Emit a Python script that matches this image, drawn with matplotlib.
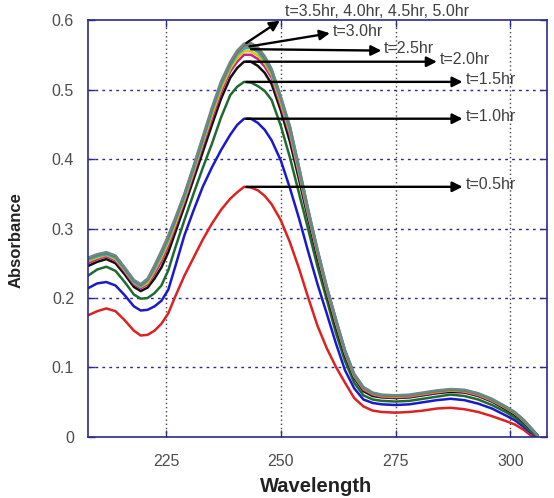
import matplotlib
matplotlib.use("Agg")
import matplotlib.pyplot as plt

plt.rcParams['font.family'] = ['Liberation Sans', 'DejaVu Sans']

# wavelength grid (nm)
wavelength = [208, 210, 212, 214, 216, 218, 219.5, 221, 222.5, 224, 225.5, 227, 229, 231,
              233, 235, 237, 239, 240.5, 242, 243.5, 245, 246.5, 248, 250, 252, 254, 256,
              258, 260, 262, 264, 266, 268, 270, 272, 275, 278, 281, 284, 287, 290, 293,
              296, 299, 301, 303, 304.5, 306]

# absorbance for each irradiation time
abs_05 = [0.175, 0.181, 0.185, 0.181, 0.168, 0.153, 0.146, 0.147, 0.153, 0.163, 0.178, 0.202,
          0.232, 0.258, 0.284, 0.307, 0.327, 0.343, 0.352, 0.360, 0.359, 0.355, 0.347, 0.335,
          0.312, 0.280, 0.242, 0.200, 0.160, 0.128, 0.101, 0.078, 0.056, 0.044, 0.038, 0.036,
          0.035, 0.036, 0.038, 0.041, 0.042, 0.040, 0.036, 0.030, 0.023, 0.018, 0.010, 0.002,
          0.000]
abs_10 = [0.214, 0.221, 0.223, 0.218, 0.204, 0.188, 0.182, 0.183, 0.188, 0.196, 0.212, 0.245,
          0.290, 0.326, 0.360, 0.388, 0.413, 0.435, 0.449, 0.458, 0.458, 0.452, 0.442, 0.427,
          0.398, 0.358, 0.314, 0.266, 0.220, 0.178, 0.135, 0.096, 0.070, 0.054, 0.049, 0.047,
          0.046, 0.047, 0.050, 0.053, 0.055, 0.053, 0.048, 0.041, 0.031, 0.024, 0.014, 0.006,
          0.000]
abs_15 = [0.232, 0.241, 0.245, 0.239, 0.223, 0.205, 0.199, 0.200, 0.207, 0.218, 0.240, 0.272,
          0.312, 0.350, 0.387, 0.422, 0.460, 0.492, 0.504, 0.511, 0.510, 0.505, 0.498, 0.485,
          0.448, 0.402, 0.350, 0.298, 0.245, 0.198, 0.150, 0.109, 0.078, 0.060, 0.054, 0.052,
          0.051, 0.052, 0.055, 0.058, 0.061, 0.059, 0.054, 0.046, 0.036, 0.028, 0.017, 0.008,
          0.000]
abs_20 = [0.246, 0.252, 0.256, 0.250, 0.234, 0.216, 0.210, 0.215, 0.228, 0.244, 0.266, 0.294,
          0.332, 0.371, 0.410, 0.449, 0.487, 0.517, 0.531, 0.540, 0.540, 0.534, 0.524, 0.508,
          0.470, 0.425, 0.370, 0.313, 0.258, 0.208, 0.160, 0.117, 0.085, 0.066, 0.059, 0.057,
          0.056, 0.057, 0.060, 0.063, 0.065, 0.064, 0.059, 0.051, 0.040, 0.032, 0.021, 0.011,
          0.001]
abs_25 = [0.250, 0.256, 0.260, 0.254, 0.238, 0.220, 0.214, 0.220, 0.235, 0.253, 0.275, 0.302,
          0.339, 0.378, 0.419, 0.458, 0.496, 0.526, 0.540, 0.550, 0.550, 0.544, 0.533, 0.517,
          0.477, 0.434, 0.377, 0.318, 0.263, 0.211, 0.164, 0.120, 0.087, 0.068, 0.061, 0.058,
          0.057, 0.058, 0.061, 0.064, 0.067, 0.065, 0.060, 0.052, 0.042, 0.034, 0.022, 0.012,
          0.001]
abs_30 = [0.253, 0.258, 0.262, 0.256, 0.240, 0.222, 0.216, 0.222, 0.239, 0.258, 0.280, 0.306,
          0.342, 0.382, 0.423, 0.463, 0.501, 0.530, 0.545, 0.555, 0.555, 0.549, 0.538, 0.521,
          0.481, 0.438, 0.380, 0.321, 0.265, 0.213, 0.166, 0.122, 0.088, 0.070, 0.062, 0.059,
          0.058, 0.059, 0.062, 0.065, 0.067, 0.066, 0.061, 0.053, 0.042, 0.034, 0.023, 0.012,
          0.002]
abs_35 = [0.255, 0.260, 0.263, 0.258, 0.241, 0.223, 0.217, 0.225, 0.242, 0.262, 0.284, 0.310,
          0.345, 0.385, 0.426, 0.468, 0.506, 0.534, 0.550, 0.559, 0.560, 0.554, 0.542, 0.524,
          0.485, 0.441, 0.383, 0.323, 0.267, 0.215, 0.168, 0.123, 0.089, 0.071, 0.063, 0.060,
          0.059, 0.060, 0.063, 0.066, 0.068, 0.067, 0.062, 0.054, 0.043, 0.035, 0.023, 0.012,
          0.002]
abs_40 = [0.256, 0.262, 0.265, 0.260, 0.243, 0.225, 0.219, 0.226, 0.244, 0.265, 0.287, 0.312,
          0.347, 0.387, 0.429, 0.470, 0.508, 0.537, 0.552, 0.562, 0.563, 0.557, 0.545, 0.527,
          0.487, 0.444, 0.385, 0.325, 0.268, 0.216, 0.169, 0.124, 0.090, 0.071, 0.063, 0.060,
          0.059, 0.060, 0.063, 0.066, 0.068, 0.067, 0.062, 0.054, 0.043, 0.035, 0.024, 0.013,
          0.002]
abs_45 = [0.257, 0.262, 0.265, 0.260, 0.243, 0.225, 0.219, 0.227, 0.246, 0.266, 0.288, 0.313,
          0.349, 0.389, 0.430, 0.472, 0.510, 0.538, 0.554, 0.564, 0.565, 0.559, 0.546, 0.528,
          0.489, 0.446, 0.387, 0.326, 0.269, 0.216, 0.169, 0.124, 0.090, 0.071, 0.063, 0.060,
          0.059, 0.060, 0.063, 0.066, 0.068, 0.067, 0.062, 0.054, 0.043, 0.035, 0.024, 0.013,
          0.002]
abs_50 = [0.258, 0.263, 0.266, 0.261, 0.244, 0.226, 0.220, 0.228, 0.247, 0.268, 0.290, 0.315,
          0.350, 0.390, 0.432, 0.474, 0.512, 0.540, 0.556, 0.566, 0.567, 0.561, 0.548, 0.530,
          0.490, 0.447, 0.388, 0.327, 0.270, 0.217, 0.170, 0.125, 0.091, 0.072, 0.064, 0.061,
          0.060, 0.061, 0.064, 0.067, 0.069, 0.068, 0.063, 0.055, 0.044, 0.036, 0.024, 0.013,
          0.002]

series = [abs_05, abs_10, abs_15, abs_20, abs_25, abs_30, abs_35, abs_40, abs_45, abs_50]
colors = ['#dd2222', '#1a1acc', '#1f6b2f', '#111111', '#d02090',
          '#d8c800', '#20b0c0', '#8a8a8a', '#8b6a40', '#6a8a8a']

# arrow labels: text, arrow tip and arrow start
labels = ['t=0.5hr', 't=1.0hr', 't=1.5hr', 't=2.0hr', 't=2.5hr', 't=3.0hr',
          't=3.5hr, 4.0hr, 4.5hr, 5.0hr']
tip_x = [289.6, 289.6, 289.6, 284.0, 271.9, 260.7, 249.8]
tip_y = [max(abs_05), max(abs_10), max(abs_15), max(abs_20), 0.556, 0.581, 0.599]
start_x = [242.5, 242.5, 242.5, 242.5, 243.5, 243.2, 242.5]
start_y = [max(abs_05), max(abs_10), max(abs_15), max(abs_20), 0.558, 0.562, 0.567]

fig = plt.figure(figsize=(5.54, 4.98), dpi=100)
ax = fig.add_axes([0.1588, 0.1225, 0.8286, 0.8373])

for vals, c in zip(series, colors):
    ax.plot(wavelength, vals, color=c, lw=1.8, solid_joinstyle='round',
            solid_capstyle='round')

for i, txt in enumerate(labels):
    ax.annotate('', xy=(tip_x[i], tip_y[i]), xytext=(start_x[i], start_y[i]),
                arrowprops=dict(arrowstyle='-|>', color='black', lw=1.7,
                                mutation_scale=15, shrinkA=0, shrinkB=0),
                annotation_clip=False)
    if i == 6:
        tx, ty = 250.9, 0.612
    else:
        tx, ty = tip_x[i] + 0.6, tip_y[i] + 0.003
    ax.text(tx, ty, txt, fontsize=11.5, color='#404040',
            ha='left', va='center', clip_on=False)

ax.set_xlim(208, 308)
ax.set_ylim(0, 0.6)
ax.set_xticks([225, 250, 275, 300])
ax.set_yticks([0, 0.1, 0.2, 0.3, 0.4, 0.5, 0.6])
ax.set_yticklabels(['0', '0.1', '0.2', '0.3', '0.4', '0.5', '0.6'])

# dotted grid: navy horizontal, dark gray vertical
for yv in [0.1, 0.2, 0.3, 0.4, 0.5]:
    ax.axhline(yv, color='#2b2b8c', lw=1, ls=(0, (2, 3)), zorder=0)
for xv in [225, 250, 275, 300]:
    ax.axvline(xv, color='#444444', lw=1, ls=(0, (1, 2)), zorder=0)

for s in ax.spines.values():
    s.set_color('#2a2a8a')
    s.set_linewidth(1.2)

ax.tick_params(direction='in', length=5, width=1, colors='#2a2a8a',
               top=True, right=True, labelcolor='#4d4d4d', labelsize=11.5)
ax.tick_params(axis='x', pad=12)
ax.tick_params(axis='y', pad=10)

ax.set_xlabel('Wavelength', fontsize=14.5, fontweight='bold', color='#222222')
ax.set_ylabel('Absorbance', fontsize=12, fontweight='bold', color='#222222')
ax.xaxis.set_label_coords(0.497, -0.097)
ax.yaxis.set_label_coords(-0.141, 0.472)

fig.savefig('out.png', dpi=100)
